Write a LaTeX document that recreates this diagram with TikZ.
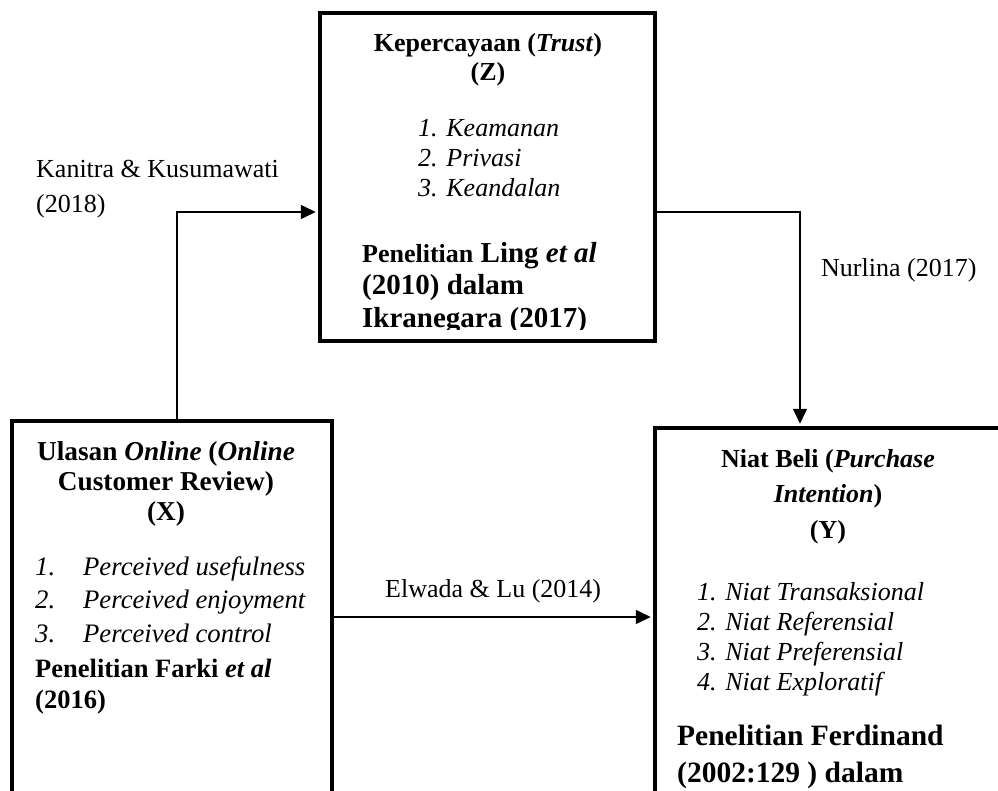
\documentclass[tikz,border=0pt]{standalone}
\usepackage{fontspec}
\setmainfont{Liberation Serif}
\usetikzlibrary{arrows.meta}

\newcommand{\fs}[2]{\fontsize{#1}{#2}\selectfont}

\begin{document}
\begin{tikzpicture}[x=1pt, y=-1pt,
    box/.style={draw, line width=4.5pt, rectangle, inner sep=0pt},
    conn/.style={-{Triangle[length=15pt,width=14pt]}, line width=1.5pt, shorten >=2pt},
    lbl/.style={anchor=base west, inner sep=0pt, align=left, font=\fs{26}{35}},
    head/.style={anchor=base, inner sep=0pt, align=center, font=\bfseries\fs{26}{30}},
    item/.style={anchor=base west, inner sep=0pt, align=left, font=\itshape\fs{26}{30}},
    ref/.style={anchor=base west, inner sep=0pt, align=left, font=\bfseries\fs{26}{32}}]
  \useasboundingbox (0,0) rectangle (998,791);
  \clip (0,0) rectangle (998,791);

  % the three variable boxes
  \node[box, minimum width=335pt, minimum height=328pt] (z) at (487.5,177) {};
  \node[box, minimum width=320pt, minimum height=429pt] (x) at (172,635.5) {};
  \node[box, minimum width=375pt, minimum height=422pt] (y) at (842.5,639) {};

  % Z (nodes sit on the baseline of their last line)
  \node[head, font=\bfseries\fs{26}{29}] (zhead) at (488,81) {Kepercayaan (\textit{Trust})\\(Z)};
  \node[item] (zitem) at (418,197) {1. Keamanan\\2. Privasi\\3. Keandalan};
  \begin{scope}
    \clip (330,20) rectangle (650,330);
    \node[ref, font=\bfseries\fs{29}{33}] (zref) at (362,328)
      {{\fs{26}{33}Penelitian} Ling \textit{et al}\\(2010) dalam\\Ikranegara (2017)};
  \end{scope}

  % X
  \node[head, font=\bfseries\fs{27.3}{30}] (xhead) at (166,520)
    {Ulasan \textit{Online} (\textit{Online}\\Customer Review)\\(X)};
  \node[item, font=\itshape\fs{26.7}{33.5}] (xitem) at (35,642)
    {\makebox[48pt][l]{1.}Perceived usefulness\\\makebox[48pt][l]{2.}Perceived enjoyment\\\makebox[48pt][l]{3.}Perceived control};
  \node[ref, font=\bfseries\fs{26.5}{31}] (xref) at (35,708) {Penelitian Farki \textit{et al}\\(2016)};

  % Y
  \node[head, font=\bfseries\fs{26}{35.5}] (yhead) at (828,538)
    {Niat Beli (\textit{Purchase}\\\textit{Intention})\\(Y)};
  \node[item] (yitem) at (697,690)
    {1. Niat Transaksional\\2. Niat Referensial\\3. Niat Preferensial\\4. Niat Exploratif};
  \node[ref, font=\bfseries\fs{29.5}{37}] (yref) at (677,782) {Penelitian Ferdinand\\(2002:129 ) dalam};

  % connectors
  \draw[conn] ([xshift=5pt]x.north) |- ([yshift=-35pt]z.west);
  \draw[conn] ([yshift=-35pt]z.east) -| ([xshift=-42.5pt]y.north);
  \draw[conn] ([yshift=18.5pt]x.east) -- ([yshift=18.5pt]x.east -| y.west);

  \node[lbl] (kanitra) at (36,213) {Kanitra \& Kusumawati\\(2018)};
  \node[lbl] (nurlina) at (821,277) {Nurlina (2017)};
  \node[lbl] (elwada) at (385,597) {Elwada \& Lu (2014)};
\end{tikzpicture}
\end{document}
